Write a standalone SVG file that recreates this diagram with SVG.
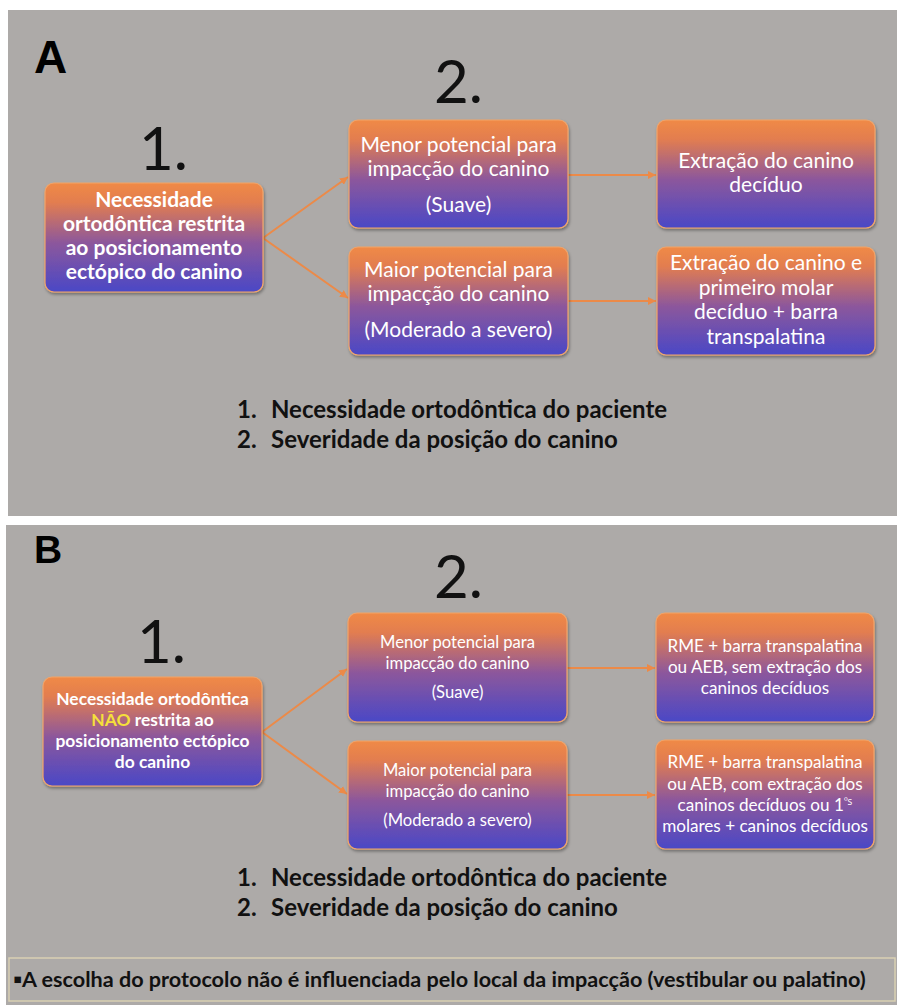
<svg xmlns="http://www.w3.org/2000/svg" width="897" height="1005" viewBox="0 0 897 1005">
<style>
.panel{fill:#adaaa8}
.box{fill:url(#g);stroke:#f2a56a;stroke-width:1.2;filter:url(#sh)}
.t{font-family:Lato,"Open Sans",sans-serif;fill:#ffffff;text-anchor:middle}
.b{font-weight:bold}
.big{font-family:Lato,"Open Sans",sans-serif;fill:#111;font-size:60px}
.lbl{font-family:"Liberation Sans",Arial,sans-serif;font-weight:bold;fill:#000}
.leg{font-family:Lato,"Open Sans",sans-serif;font-weight:bold;fill:#111;font-size:24px}
.note{font-family:Lato,"Open Sans",sans-serif;font-weight:bold;fill:#111;font-size:21.6px}
.c{stroke:#ec8a48;stroke-width:2;fill:none;marker-end:url(#ah)}
</style>
<defs>
<linearGradient id="g" x1="0" y1="0" x2="0" y2="1">
<stop offset="0" stop-color="#f08a46"/>
<stop offset="0.18" stop-color="#e27d50"/>
<stop offset="0.55" stop-color="#8c579c"/>
<stop offset="1" stop-color="#4a48c6"/>
</linearGradient>
<filter id="sh" x="-10%" y="-10%" width="120%" height="130%">
<feDropShadow dx="1" dy="2" stdDeviation="1.5" flood-color="#000" flood-opacity="0.35"/>
</filter>
<marker id="ah" viewBox="0 0 10 10" refX="10" refY="5" markerWidth="8" markerHeight="8" markerUnits="userSpaceOnUse" orient="auto">
<path d="M0,0 L10,5 L0,10 z" fill="#ec8a48"/>
</marker>
</defs>

<rect class="panel" x="8" y="10" width="889" height="506"/>
<rect class="panel" x="6" y="525" width="891" height="480"/>

<!-- Panel A -->
<text class="lbl" x="34" y="73" font-size="46">A</text>
<text class="big" x="139" y="170">1.</text>
<text class="big" x="434" y="103">2.</text>

<g id="connectors-a">
<path class="c" d="M263,238 L348,177"/>
<path class="c" d="M263,238 L348,298"/>
<path class="c" d="M568,175 L656,175"/>
<path class="c" d="M568,301 L656,301"/>
</g>

<g id="a-need">
<rect class="box" x="45" y="183" width="218" height="109" rx="9"/>
<text class="t b" font-size="21"><tspan x="154" y="207">Necessidade</tspan><tspan x="154" y="231">ortodôntica restrita</tspan><tspan x="154" y="255">ao posicionamento</tspan><tspan x="154" y="279">ectópico do canino</tspan></text>
</g>
<g id="a-menor">
<rect class="box" x="349" y="120" width="219" height="108" rx="9"/>
<text class="t" font-size="21"><tspan x="458.5" y="152">Menor potencial para</tspan><tspan x="458.5" y="176">impacção do canino</tspan><tspan x="458.5" y="212">(Suave)</tspan></text>
</g>
<g id="a-maior">
<rect class="box" x="349" y="247" width="219" height="108" rx="9"/>
<text class="t" font-size="21"><tspan x="458.5" y="277">Maior potencial para</tspan><tspan x="458.5" y="301">impacção do canino</tspan><tspan x="458.5" y="337">(Moderado a severo)</tspan></text>
</g>
<g id="a-extr1">
<rect class="box" x="657" y="120" width="218" height="108" rx="9"/>
<text class="t" font-size="21"><tspan x="766" y="168">Extração do canino</tspan><tspan x="766" y="192">decíduo</tspan></text>
</g>
<g id="a-extr2">
<rect class="box" x="657" y="247" width="218" height="108" rx="9"/>
<text class="t" font-size="21"><tspan x="766" y="270">Extração do canino e</tspan><tspan x="766" y="294.5">primeiro molar</tspan><tspan x="766" y="319">decíduo + barra</tspan><tspan x="766" y="343.5">transpalatina</tspan></text>
</g>

<g id="a-legend">
<text class="leg" x="237" y="418">1.</text><text class="leg" x="271" y="418">Necessidade ortodôntica do paciente</text>
<text class="leg" x="237" y="448">2.</text><text class="leg" x="271" y="448">Severidade da posição do canino</text>
</g>

<!-- Panel B -->
<text class="lbl" x="34" y="563" font-size="39">B</text>
<text class="big" x="137" y="663">1.</text>
<text class="big" x="434" y="598">2.</text>

<g id="connectors-b">
<path class="c" d="M262,732 L347,669"/>
<path class="c" d="M262,732 L347,794"/>
<path class="c" d="M567,668 L655,668"/>
<path class="c" d="M567,795 L655,795"/>
</g>

<g id="b-need">
<rect class="box" x="43" y="677" width="219" height="109" rx="9"/>
<text class="t b" font-size="17.4"><tspan x="152.5" y="705">Necessidade ortodôntica</tspan><tspan x="152.5" y="726"><tspan fill="#f5e03a">NÃO</tspan> restrita ao</tspan><tspan x="152.5" y="747">posicionamento ectópico</tspan><tspan x="152.5" y="768">do canino</tspan></text>
</g>
<g id="b-menor">
<rect class="box" x="348" y="613" width="219" height="109" rx="9"/>
<text class="t" font-size="16.6"><tspan x="457.5" y="648">Menor potencial para</tspan><tspan x="457.5" y="669">impacção do canino</tspan><tspan x="457.5" y="698">(Suave)</tspan></text>
</g>
<g id="b-maior">
<rect class="box" x="348" y="741" width="219" height="108" rx="9"/>
<text class="t" font-size="16.6"><tspan x="457.5" y="776">Maior potencial para</tspan><tspan x="457.5" y="797">impacção do canino</tspan><tspan x="457.5" y="826">(Moderado a severo)</tspan></text>
</g>
<g id="b-sem">
<rect class="box" x="656" y="613" width="218" height="109" rx="9"/>
<text class="t" font-size="17.1"><tspan x="765" y="652">RME + barra transpalatina</tspan><tspan x="765" y="673">ou AEB, sem extração dos</tspan><tspan x="765" y="694">caninos decíduos</tspan></text>
</g>
<g id="b-com">
<rect class="box" x="656" y="740" width="218" height="109" rx="9"/>
<text class="t" font-size="17.1"><tspan x="765" y="768">RME + barra transpalatina</tspan><tspan x="765" y="789.5">ou AEB, com extração dos</tspan><tspan x="765" y="811">caninos decíduos ou 1<tspan font-family="'Open Sans',sans-serif" font-size="10" dy="-6">ºs</tspan></tspan><tspan x="765" y="832">molares + caninos decíduos</tspan></text>
</g>

<g id="b-legend">
<text class="leg" x="237" y="886">1.</text><text class="leg" x="271" y="886">Necessidade ortodôntica do paciente</text>
<text class="leg" x="237" y="916">2.</text><text class="leg" x="271" y="916">Severidade da posição do canino</text>
</g>

<g id="b-note">
<rect x="9" y="958" width="886" height="43" fill="none" stroke="#d9d0b2" stroke-width="1.5"/>
<text class="note" x="13" y="987">▪A escolha do protocolo não é influenciada pelo local da impacção (vestibular ou palatino)</text>
</g>
</svg>
